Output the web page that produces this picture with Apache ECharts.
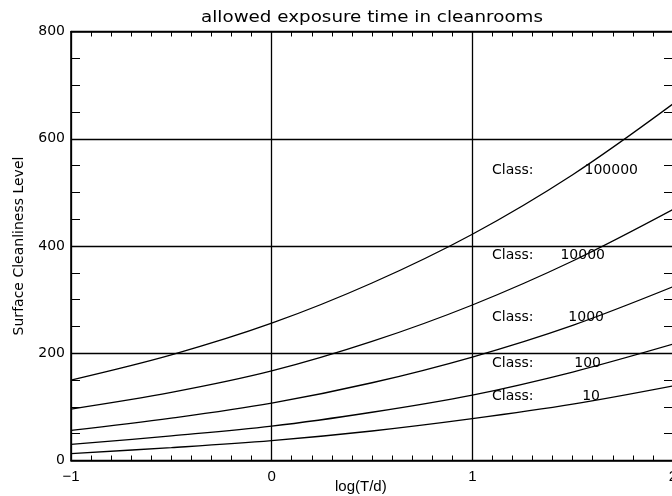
<!DOCTYPE html>
<html><head><meta charset="utf-8">
<script src="https://cdn.jsdelivr.net/npm/echarts@6/dist/echarts.min.js"></script>
<style>html,body{margin:0;padding:0;background:#fff}#c{width:672px;height:496px}</style>
</head><body><div id="c"></div>
<script>
// ---- data ----
const xValues = [-1, -0.5, 0, 0.5, 1, 1.5, 2];
const class100000 = [150, 197, 256, 331, 422, 533, 665];
const class10000  = [96, 127, 167, 222, 290, 372, 468];
const class1000   = [56, 79, 107, 145, 193, 252, 324];
const class100    = [30, 46, 64, 90, 122, 165, 217];
const class10     = [13, 24, 37, 55, 78, 105, 139];
const classNames  = ['100000', '10000', '1000', '100', '10'];
const xTickLabels = [-1, 0, 1, 2];
const yTickLabels = [0, 200, 400, 600, 800];

const seriesValues = [class100000, class10000, class1000, class100, class10];
const toPairs = arr => xValues.map((x, i) => [x, arr[i]]);

const FONT = 'DejaVu Sans';
const ARIAL = 'Liberation Sans';

// label placement (pixels)
const classLabelY = [170, 255, 317, 363, 396];
const classNumRight = [638, 605, 604, 601, 600];

const chart = echarts.init(document.getElementById('c'), null, {renderer: 'canvas'});

const black = '#000';
const baseX = {
  type: 'value', min: xTickLabels[0], max: xTickLabels[xTickLabels.length - 1], interval: 1,
  axisLine: {show: true, onZero: false, lineStyle: {color: black, width: 1.6}},
  axisTick: {show: true, inside: true, length: 5, lineStyle: {color: black, width: 1}},
  minorTick: {show: true, splitNumber: 10, length: 5, lineStyle: {color: black, width: 1}},
};
const baseY = {
  type: 'value', min: yTickLabels[0], max: yTickLabels[yTickLabels.length - 1], interval: 200,
  axisLine: {show: true, onZero: false, lineStyle: {color: black, width: 1.6}},
  axisTick: {show: true, inside: true, length: 9, lineStyle: {color: black, width: 1}},
  minorTick: {show: true, splitNumber: 4, length: 9, lineStyle: {color: black, width: 1}},
};

const option = {
  backgroundColor: '#fff',
  animation: false,
  grid: {left: 71, top: 31.5, width: 602, height: 429, containLabel: false, outerBoundsMode: 'none'},
  xAxis: [
    Object.assign({}, baseX, {
      position: 'bottom',
      splitLine: {show: true, lineStyle: {color: black, width: 1.3}},
      axisLabel: {show: true, margin: 9, color: black, fontFamily: ARIAL, fontSize: 15,
        showMinLabel: true, showMaxLabel: true, hideOverlap: false,
        formatter: function (v) { return String(v).replace('-', '\u2212'); }}
    }),
    Object.assign({}, baseX, {
      position: 'top', splitLine: {show: false}, axisLabel: {show: false}
    })
  ],
  yAxis: [
    Object.assign({}, baseY, {
      position: 'left',
      name: 'Surface Cleanliness Level', nameLocation: 'middle', nameGap: 45, nameRotate: 90,
      nameTextStyle: {color: black, fontFamily: FONT, fontSize: 14},
      splitLine: {show: true, lineStyle: {color: black, width: 1.3}},
      axisLabel: {show: true, margin: 6, color: black, fontFamily: FONT, fontSize: 14,
        showMinLabel: true, showMaxLabel: true, hideOverlap: false}
    }),
    Object.assign({}, baseY, {
      position: 'right', splitLine: {show: false}, axisLabel: {show: false}
    })
  ],
  series: seriesValues.map((vals, i) => ({
    name: 'Class ' + classNames[i],
    type: 'line',
    xAxisIndex: 0, yAxisIndex: 0,
    data: toPairs(vals),
    smooth: 0.35,
    showSymbol: false,
    symbol: 'none',
    clip: true,
    lineStyle: {color: black, width: 1.3},
    emphasis: {disabled: true}
  })),
  graphic: [
    {type: 'text', x: 372, y: 18, scaleX: 1.22, silent: true,
      style: {text: 'allowed exposure time in cleanrooms', x: 0, y: 0,
        align: 'center', verticalAlign: 'middle', textAlign: 'center', textVerticalAlign: 'middle',
        font: '15px DejaVu Sans', fill: black}},
    {type: 'text', x: 335, y: 487, silent: true,
      style: {text: 'log(T/d)', x: 0, y: 0, align: 'left', verticalAlign: 'middle',
        textAlign: 'left', textVerticalAlign: 'middle', font: '15px Liberation Sans', fill: black}}
  ].concat(classNames.map((n, i) => ({
    type: 'text', x: 492, y: classLabelY[i], silent: true,
    style: {text: 'Class:', x: 0, y: 0, align: 'left', verticalAlign: 'middle',
      textAlign: 'left', textVerticalAlign: 'middle', font: '14px DejaVu Sans', fill: black}
  }))).concat(classNames.map((n, i) => ({
    type: 'text', x: classNumRight[i], y: classLabelY[i], silent: true,
    style: {text: n, x: 0, y: 0, align: 'right', verticalAlign: 'middle',
      textAlign: 'right', textVerticalAlign: 'middle', font: '14px DejaVu Sans', fill: black}
  })))
};
chart.setOption(option);
</script>
</body></html>
